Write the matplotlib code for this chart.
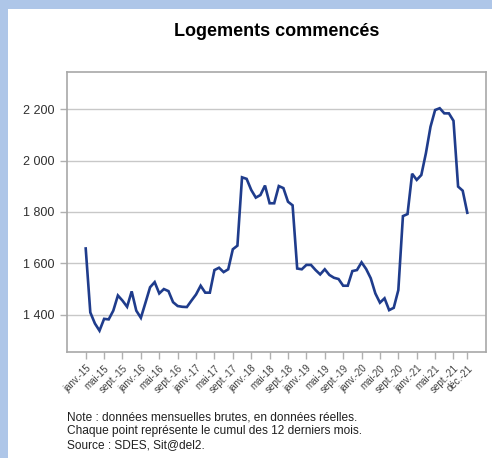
import numpy as np
import matplotlib.pyplot as plt
from matplotlib.patches import Rectangle

plt.rcParams['font.family'] = ['Liberation Sans', 'DejaVu Sans']

# Cumul 12 mois des logements commencés, janv. 2015 -> déc. 2021
logements = [
    1658, 1409, 1366, 1338, 1384, 1382, 1416, 1475, 1455, 1431, 1491, 1416,  # 2015
    1388, 1447, 1507, 1527, 1483, 1500, 1492, 1449, 1434, 1431, 1430, 1455,  # 2016
    1479, 1513, 1486, 1486, 1574, 1583, 1566, 1577, 1655, 1669, 1935, 1929,  # 2017
    1886, 1856, 1866, 1903, 1834, 1834, 1901, 1893, 1840, 1826, 1580, 1577,  # 2018
    1594, 1594, 1574, 1557, 1577, 1555, 1544, 1539, 1513, 1513, 1570, 1574,  # 2019
    1604, 1578, 1542, 1483, 1447, 1464, 1418, 1427, 1496, 1784, 1792, 1949,  # 2020
    1925, 1944, 2029, 2132, 2197, 2204, 2184, 2184, 2155, 1899, 1883, 1797,  # 2021
]
tick_pos = list(range(0, 84, 4)) + [83]
tick_labels = []
for y in range(15, 22):
    tick_labels += ["janv.-%d" % y, "mai-%d" % y, "sept.-%d" % y]
tick_labels += ["déc.-21"]
yticks = [1400, 1600, 1800, 2000, 2200]
ytick_labels = ["1 400", "1 600", "1 800", "2 000", "2 200"]
notes = ["Note : données mensuelles brutes, en données réelles.",
         "Chaque point représente le cumul des 12 derniers mois.",
         "Source : SDES, Sit@del2."]

fig = plt.figure(figsize=(4.92, 4.58), dpi=100, facecolor="#aec6e8")
fig.patches.append(Rectangle((8 / 492, 0), 1, 1 - 9 / 458, transform=fig.transFigure,
                             facecolor="white", edgecolor="none", zorder=-5))

ax = fig.add_axes([67 / 492, 1 - 352 / 458, (486 - 67) / 492, (352 - 72) / 458])
ax.set_zorder(2)
x = np.arange(len(logements))
ax.plot(x, logements, color="#1f3c8c", lw=1.9, solid_joinstyle="miter", zorder=3)

ax.set_xlim(-4.07, 87.07)
ax.set_ylim(1255, 2345)
ax.set_yticks(yticks)
ax.set_yticklabels(ytick_labels, fontsize=9, color="#303030")
ax.set_xticks(tick_pos)
ax.set_xticklabels(tick_labels, rotation=45, ha="right", rotation_mode="anchor",
                   fontsize=7, color="#404040")
ax.tick_params(axis="both", length=5, width=1, color="#b0b0b0", direction="out")
ax.tick_params(axis="y", pad=4)
ax.tick_params(axis="x", pad=3)
ax.grid(axis="y", color="#c8c8c8", lw=1)
ax.set_axisbelow(True)
for s in ax.spines.values():
    s.set_color("#a8a8a8")
    s.set_linewidth(1.2)

fig.text(277 / 492, 1 - 31 / 458, "Logements commencés", ha="center", va="center",
         fontsize=13, fontweight="bold")
for i, line in enumerate(notes):
    fig.text(67 / 492, 1 - (421 + 13.3 * i) / 458, line, ha="left", va="baseline",
             fontsize=8.6, color="#202020")

fig.savefig("out.png", dpi=100, facecolor=fig.get_facecolor())
